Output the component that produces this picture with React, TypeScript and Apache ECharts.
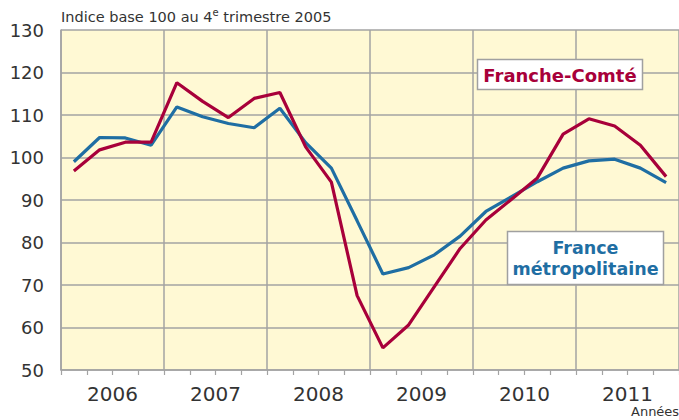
import React, { useEffect, useRef } from "react";
import * as echarts from "echarts";

const quarters = [
  "2006T1","2006T2","2006T3","2006T4",
  "2007T1","2007T2","2007T3","2007T4",
  "2008T1","2008T2","2008T3","2008T4",
  "2009T1","2009T2","2009T3","2009T4",
  "2010T1","2010T2","2010T3","2010T4",
  "2011T1","2011T2","2011T3","2011T4",
];
const years = ["2006", "2007", "2008", "2009", "2010", "2011"];
const franceComte = [
  96.8, 101.8, 103.6, 103.6,
  117.6, 113.2, 109.4, 113.9,
  115.3, 102.5, 94.2, 67.5,
  55.2, 60.6, 69.6, 78.6,
  85.3, 90.2, 95.2, 105.5,
  109.1, 107.4, 102.9, 95.5,
];
const franceMetro = [
  99.0, 104.7, 104.6, 102.9,
  111.9, 109.6, 108.0, 107.0,
  111.6, 103.5, 97.5, 85.1,
  72.6, 74.1, 77.1, 81.5,
  87.3, 90.8, 94.3, 97.5,
  99.2, 99.6, 97.5, 94.1,
];
const yTicks = { min: 50, max: 130, interval: 10 };

const RED = "#a8003a";
const BLUE = "#1f6ea3";
const GRID = "#a3a3a3";
const FONT = "DejaVu Sans";

export default function App() {
  const ref = useRef<HTMLDivElement>(null);
  useEffect(() => {
    if (!ref.current) return;
    const chart = echarts.init(ref.current, null, { renderer: "svg" });
    chart.setOption({
      animation: false,
      backgroundColor: "#ffffff",
      grid: {
        left: 61,
        top: 30,
        width: 621,
        height: 340,
        show: true,
        backgroundColor: "#fff9d4",
        borderWidth: 0,
      },
      xAxis: [
        {
          type: "category",
          data: quarters,
          boundaryGap: true,
          position: "bottom",
          axisLine: { show: true, lineStyle: { color: GRID, width: 1.5 } },
          axisTick: { show: true, interval: 0, length: 5, lineStyle: { color: GRID, width: 1.2 } },
          axisLabel: { show: false },
          splitLine: { show: false },
        },
        {
          type: "category",
          data: years,
          boundaryGap: true,
          position: "bottom",
          axisLine: { show: false },
          axisTick: { show: false },
          axisLabel: {
            show: true,
            interval: 0,
            margin: 14,
            color: "#333333",
            fontSize: 20,
            fontFamily: FONT,
          },
          splitLine: { show: true, interval: 0, lineStyle: { color: GRID, width: 1.5 } },
        },
      ],
      yAxis: {
        type: "value",
        min: yTicks.min,
        max: yTicks.max,
        interval: yTicks.interval,
        axisLine: { show: true, lineStyle: { color: GRID, width: 1.5 } },
        axisTick: { show: false },
        axisLabel: {
          color: "#333333",
          fontSize: 18,
          fontFamily: FONT,
          margin: 17,
        },
        splitLine: { show: true, lineStyle: { color: GRID, width: 1.5 } },
      },
      series: [
        {
          name: "France métropolitaine",
          type: "line",
          xAxisIndex: 0,
          data: franceMetro,
          symbol: "none",
          lineStyle: { color: BLUE, width: 3.2 },
          z: 3,
        },
        {
          name: "Franche-Comté",
          type: "line",
          xAxisIndex: 0,
          data: franceComte,
          symbol: "none",
          lineStyle: { color: RED, width: 3.2 },
          z: 4,
        },
      ],
      graphic: [
        {
          type: "text",
          left: 61,
          top: 7,
          style: {
            text: "{n|Indice base 100 au 4}{s|e}{n| trimestre 2005}",
            rich: {
              n: { fontSize: 14.5, fontFamily: FONT, fill: "#333333", verticalAlign: "bottom", lineHeight: 17 },
              s: { fontSize: 10, fontFamily: FONT, fill: "#333333", verticalAlign: "top", lineHeight: 17, padding: [0, 0, 6, 0] },
            },
          },
        },
        {
          type: "text",
          left: 631,
          top: 405,
          style: { text: "Années", fontSize: 13, fontFamily: FONT, fill: "#333333" },
        },
        {
          type: "rect",
          shape: { x: 477.5, y: 59.5, width: 165, height: 30 },
          style: { fill: "#ffffff", stroke: "#a0a0a0", lineWidth: 1.5 },
          z: 10,
        },
        {
          type: "text",
          x: 560,
          y: 75,
          style: {
            text: "Franche-Comté",
            fontSize: 18,
            fontWeight: "bold",
            fontFamily: FONT,
            fill: RED,
            align: "center",
            verticalAlign: "middle",
          },
          z: 11,
        },
        {
          type: "rect",
          shape: { x: 507.5, y: 231.5, width: 156, height: 53 },
          style: { fill: "#ffffff", stroke: "#a0a0a0", lineWidth: 1.5 },
          z: 10,
        },
        {
          type: "text",
          x: 585.5,
          y: 258,
          style: {
            text: "France\nmétropolitaine",
            fontSize: 17.5,
            lineHeight: 21,
            fontWeight: "bold",
            fontFamily: FONT,
            fill: BLUE,
            align: "center",
            verticalAlign: "middle",
          },
          z: 11,
        },
      ],
    });
    return () => chart.dispose();
  }, []);
  return (
    <div
      ref={ref}
      style={{ position: "fixed", left: 0, top: 0, width: 679, height: 420 }}
    />
  );
}
